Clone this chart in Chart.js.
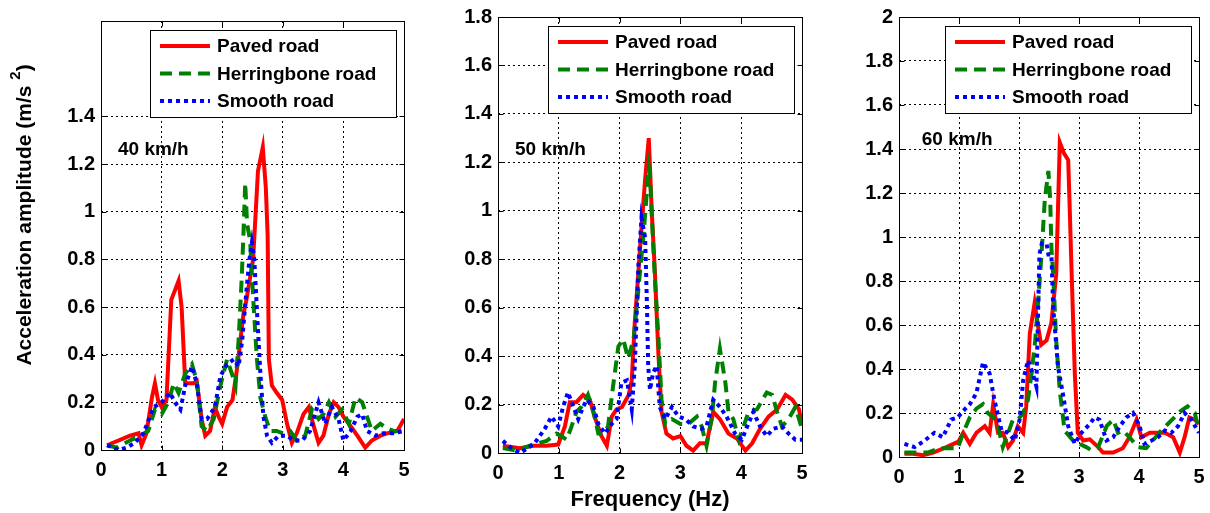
<!DOCTYPE html>
<html>
<head>
<meta charset="utf-8">
<script src="https://cdn.jsdelivr.net/npm/chart.js@4.4.0/dist/chart.umd.min.js"></script>
<style>
  html, body { margin: 0; padding: 0; background: #fff; }
  #wrap { position: relative; width: 1210px; height: 513px; overflow: hidden; }
  canvas { position: absolute; top: 0; }
</style>
</head>
<body>
<div id="wrap">
  <canvas id="c40" width="412" height="513" style="left:0px"></canvas>
  <canvas id="c50" width="398" height="513" style="left:412px"></canvas>
  <canvas id="c60" width="400" height="513" style="left:810px"></canvas>
</div>
<script>
// ---- data ----
const seriesNames = ['Paved road', 'Herringbone road', 'Smooth road'];
const speedLabels = ['40 km/h', '50 km/h', '60 km/h'];
const yMax = [1.8, 1.8, 2];
const yTickTop = [1.4, 1.8, 2];
const xTitle = 'Frequency (Hz)';

// 40 km/h
const paved40X = [0.1,0.48,0.62,0.67,0.75,0.84,0.89,0.94,1.0,1.08,1.16,1.28,1.33,1.39,1.53,1.58,1.66,1.72,1.8,1.88,1.94,2.0,2.08,2.17,2.25,2.35,2.4,2.51,2.59,2.67,2.72,2.75,2.77,2.82,2.9,2.99,3.07,3.15,3.23,3.34,3.43,3.51,3.59,3.67,3.76,3.84,3.92,4.0,4.12,4.23,4.36,4.47,4.61,4.72,4.89,5.0];
const paved40Y = [0.02,0.06,0.07,0.02,0.07,0.22,0.28,0.21,0.18,0.21,0.63,0.71,0.6,0.28,0.28,0.29,0.13,0.06,0.08,0.18,0.14,0.11,0.18,0.21,0.35,0.57,0.63,0.8,1.17,1.27,1.1,0.9,0.38,0.27,0.24,0.21,0.11,0.03,0.07,0.15,0.18,0.1,0.03,0.06,0.15,0.2,0.18,0.14,0.1,0.06,0.01,0.04,0.06,0.07,0.08,0.13];
const herring40X = [0.1,0.26,0.48,0.64,0.78,0.89,1.0,1.11,1.2,1.28,1.39,1.5,1.58,1.66,1.75,1.86,1.97,2.08,2.16,2.22,2.27,2.32,2.35,2.38,2.41,2.46,2.52,2.57,2.63,2.71,2.79,2.9,3.0,3.12,3.23,3.37,3.48,3.59,3.67,3.76,3.87,3.98,4.09,4.2,4.31,4.39,4.47,4.61,4.72,4.83,5.0];
const herring40Y = [0.02,0.01,0.04,0.06,0.08,0.17,0.15,0.2,0.28,0.24,0.32,0.36,0.29,0.1,0.08,0.13,0.27,0.38,0.32,0.27,0.46,0.71,0.9,1.12,0.95,0.88,0.6,0.39,0.22,0.14,0.08,0.08,0.07,0.08,0.04,0.06,0.17,0.13,0.15,0.2,0.14,0.17,0.11,0.22,0.2,0.14,0.08,0.11,0.09,0.08,0.08];
const smooth40X = [0.1,0.29,0.42,0.56,0.7,0.87,1.0,1.14,1.22,1.31,1.39,1.5,1.58,1.66,1.75,1.88,1.97,2.08,2.19,2.27,2.33,2.4,2.45,2.49,2.53,2.57,2.63,2.68,2.74,2.82,2.93,3.07,3.18,3.32,3.45,3.59,3.7,3.81,3.92,4.0,4.12,4.23,4.31,4.39,4.53,4.66,4.83,5.0];
const smooth40Y = [0.02,0.0,0.01,0.03,0.07,0.18,0.2,0.24,0.2,0.17,0.27,0.35,0.28,0.13,0.13,0.18,0.31,0.36,0.38,0.35,0.46,0.67,0.8,0.87,0.8,0.6,0.32,0.14,0.06,0.03,0.06,0.06,0.04,0.04,0.08,0.2,0.11,0.18,0.13,0.04,0.08,0.14,0.15,0.08,0.06,0.07,0.07,0.08];

// 50 km/h
const paved50X = [0.08,0.36,0.58,0.8,0.99,1.1,1.18,1.29,1.4,1.51,1.59,1.7,1.79,1.87,1.95,2.04,2.15,2.2,2.25,2.31,2.36,2.42,2.48,2.53,2.58,2.64,2.69,2.77,2.88,3.0,3.1,3.21,3.32,3.43,3.54,3.65,3.79,3.93,4.07,4.18,4.31,4.45,4.59,4.73,4.84,4.95,5.0];
const paved50Y = [0.03,0.02,0.03,0.03,0.035,0.11,0.21,0.21,0.24,0.22,0.15,0.07,0.03,0.15,0.18,0.19,0.24,0.3,0.54,0.75,0.93,1.13,1.3,0.99,0.75,0.4,0.17,0.08,0.06,0.07,0.03,0.01,0.04,0.04,0.17,0.14,0.08,0.06,0.01,0.04,0.1,0.15,0.18,0.24,0.22,0.18,0.12];
const herring50X = [0.08,0.3,0.58,0.8,0.96,1.04,1.13,1.21,1.29,1.37,1.48,1.57,1.65,1.73,1.81,1.9,1.98,2.06,2.14,2.23,2.31,2.39,2.44,2.48,2.5,2.53,2.58,2.64,2.69,2.75,2.86,3.0,3.13,3.27,3.35,3.43,3.52,3.57,3.65,3.74,3.79,3.87,3.96,4.04,4.12,4.26,4.42,4.51,4.59,4.67,4.78,4.89,5.0];
const herring50Y = [0.02,0.01,0.035,0.05,0.08,0.07,0.055,0.11,0.17,0.19,0.24,0.17,0.08,0.08,0.11,0.29,0.44,0.47,0.39,0.47,0.68,0.89,1.05,1.18,1.15,0.98,0.72,0.47,0.22,0.12,0.14,0.12,0.12,0.15,0.11,0.03,0.15,0.29,0.43,0.29,0.17,0.14,0.055,0.11,0.17,0.18,0.25,0.24,0.17,0.11,0.14,0.19,0.1];
const smooth50X = [0.08,0.22,0.36,0.49,0.6,0.77,0.88,0.99,1.07,1.15,1.24,1.32,1.4,1.46,1.57,1.65,1.76,1.87,1.95,2.03,2.12,2.2,2.25,2.31,2.36,2.42,2.45,2.47,2.5,2.55,2.61,2.66,2.75,2.86,2.97,3.08,3.21,3.35,3.43,3.54,3.65,3.76,3.9,4.01,4.1,4.2,4.31,4.42,4.53,4.67,4.78,4.89,5.0];
const smooth50Y = [0.05,0.02,0.0,0.02,0.04,0.1,0.15,0.11,0.19,0.25,0.19,0.14,0.19,0.22,0.19,0.12,0.08,0.12,0.14,0.29,0.3,0.18,0.36,0.78,0.97,0.89,0.61,0.36,0.26,0.33,0.36,0.19,0.14,0.19,0.15,0.14,0.11,0.1,0.11,0.22,0.19,0.15,0.08,0.055,0.11,0.17,0.11,0.07,0.1,0.11,0.08,0.055,0.055];

// 60 km/h
const paved60X = [0.09,0.23,0.4,0.57,0.79,0.99,1.07,1.18,1.29,1.43,1.51,1.57,1.65,1.73,1.82,1.9,1.98,2.07,2.12,2.18,2.26,2.32,2.37,2.46,2.54,2.62,2.66,2.68,2.75,2.82,2.84,2.87,2.93,2.98,3.07,3.18,3.32,3.4,3.57,3.73,3.84,3.96,4.04,4.18,4.32,4.43,4.57,4.68,4.76,4.84,4.93,5.0];
const paved60Y = [0.015,0.015,0.008,0.02,0.045,0.07,0.11,0.06,0.11,0.14,0.11,0.24,0.11,0.11,0.045,0.075,0.14,0.11,0.23,0.56,0.7,0.59,0.51,0.53,0.61,0.83,1.23,1.43,1.38,1.35,1.18,0.9,0.38,0.11,0.075,0.08,0.045,0.02,0.02,0.04,0.09,0.17,0.09,0.11,0.11,0.11,0.09,0.02,0.09,0.18,0.17,0.15];
const herring60X = [0.09,0.32,0.48,0.68,0.84,0.98,1.07,1.18,1.29,1.4,1.48,1.57,1.65,1.73,1.82,1.9,1.98,2.07,2.15,2.21,2.27,2.32,2.38,2.43,2.49,2.52,2.54,2.57,2.62,2.68,2.76,2.9,3.01,3.12,3.21,3.32,3.46,3.57,3.65,3.73,3.84,3.98,4.12,4.23,4.37,4.48,4.59,4.7,4.81,4.93,5.0];
const herring60Y = [0.02,0.02,0.02,0.04,0.04,0.04,0.11,0.18,0.22,0.24,0.2,0.18,0.14,0.045,0.11,0.17,0.17,0.2,0.26,0.38,0.53,0.71,0.94,1.17,1.3,1.17,0.95,0.83,0.53,0.3,0.12,0.075,0.06,0.045,0.03,0.045,0.14,0.17,0.11,0.12,0.09,0.045,0.04,0.075,0.12,0.15,0.18,0.21,0.23,0.2,0.12];
const smooth60X = [0.09,0.26,0.43,0.59,0.73,0.87,0.98,1.07,1.18,1.29,1.4,1.51,1.59,1.71,1.82,1.93,2.01,2.07,2.15,2.23,2.29,2.34,2.38,2.46,2.49,2.54,2.57,2.65,2.73,2.82,2.93,3.04,3.18,3.26,3.34,3.46,3.57,3.68,3.79,3.9,4.01,4.09,4.21,4.32,4.43,4.54,4.65,4.76,4.87,5.0];
const smooth60Y = [0.06,0.045,0.075,0.11,0.09,0.17,0.18,0.21,0.24,0.29,0.43,0.38,0.26,0.12,0.11,0.075,0.17,0.35,0.44,0.38,0.32,0.92,0.97,0.97,0.92,0.92,0.68,0.41,0.29,0.14,0.06,0.11,0.15,0.18,0.17,0.075,0.09,0.14,0.18,0.2,0.14,0.06,0.075,0.09,0.12,0.11,0.14,0.2,0.17,0.11];

// ---- styling / layout ----
const FONT = 'Arial, "Liberation Sans", Helvetica, sans-serif';
Chart.defaults.font.family = FONT;
Chart.defaults.color = '#000';

const lineStyles = [
  { color: '#ff0000', dash: [], width: 4, order: 2 },
  { color: '#008000', dash: [12, 7], width: 4, order: 1 },
  { color: '#0000ff', dash: [4, 4], width: 4, order: 0 }
];
const panels = [
  { id: 'c40', yW: 101, top: 21, xH: 63, right: 8, lab: [0.28, 1.26] },
  { id: 'c50', yW: 86,  top: 17, xH: 60, right: 8, lab: [0.28, 1.25] },
  { id: 'c60', yW: 89,  top: 17, xH: 56, right: 11, lab: [0.38, 1.44] }
];
const panelData = [
  [[paved40X, paved40Y], [herring40X, herring40Y], [smooth40X, smooth40Y]],
  [[paved50X, paved50Y], [herring50X, herring50Y], [smooth50X, smooth50Y]],
  [[paved60X, paved60Y], [herring60X, herring60Y], [smooth60X, smooth60Y]]
];

function toPoints(xs, ys) {
  return xs.map((x, k) => ({ x: x, y: ys[k] }));
}

// box round the axes + inward tick marks
const framePlugin = {
  id: 'frame',
  afterDatasetsDraw(chart) {
    const a = chart.chartArea, ctx = chart.ctx;
    const L = Math.round(a.left) + 0.5, T = Math.round(a.top) + 0.5;
    const R = Math.round(a.right) + 0.5, B = Math.round(a.bottom) + 0.5;
    ctx.save();
    ctx.strokeStyle = '#000';
    ctx.lineWidth = 1;
    ctx.strokeRect(L, T, R - L, B - T);
    ctx.beginPath();
    chart.scales.x.ticks.forEach(t => {
      const px = Math.round(chart.scales.x.getPixelForValue(t.value)) + 0.5;
      ctx.moveTo(px, B); ctx.lineTo(px, B - 5);
      ctx.moveTo(px, T); ctx.lineTo(px, T + 5);
    });
    chart.scales.y.ticks.forEach(t => {
      const py = Math.round(chart.scales.y.getPixelForValue(t.value)) + 0.5;
      ctx.moveTo(L, py); ctx.lineTo(L + 5, py);
      ctx.moveTo(R, py); ctx.lineTo(R - 5, py);
    });
    ctx.stroke();
    ctx.restore();
  }
};

// legend box inside the plot, top right
const legendPlugin = {
  id: 'legendBox',
  afterDatasetsDraw(chart) {
    const a = chart.chartArea, ctx = chart.ctx;
    const w = 246, h = 87;
    const x0 = Math.round(a.right - 8 - w), y0 = Math.round(a.top + 9);
    ctx.save();
    ctx.fillStyle = '#fff';
    ctx.fillRect(x0, y0, w, h);
    ctx.strokeStyle = '#000';
    ctx.lineWidth = 1;
    ctx.strokeRect(x0 + 0.5, y0 + 0.5, w, h);
    chart.data.datasets.forEach((ds, k) => {
      const yy = y0 + 16 + k * 27.5;
      ctx.strokeStyle = ds.borderColor;
      ctx.lineWidth = ds.borderWidth;
      ctx.setLineDash(ds.borderDash || []);
      ctx.beginPath();
      ctx.moveTo(x0 + 10, yy);
      ctx.lineTo(x0 + 60, yy);
      ctx.stroke();
      ctx.setLineDash([]);
      ctx.fillStyle = '#000';
      ctx.font = 'bold 19px ' + FONT;
      ctx.textBaseline = 'middle';
      ctx.textAlign = 'left';
      ctx.fillText(ds.label, x0 + 67, yy + 1);
    });
    ctx.restore();
  }
};

// speed label, placed in data coordinates
const speedPlugin = {
  id: 'speed',
  afterDatasetsDraw(chart, args, opts) {
    const ctx = chart.ctx;
    const px = chart.scales.x.getPixelForValue(opts.at[0]);
    const py = chart.scales.y.getPixelForValue(opts.at[1]);
    ctx.save();
    ctx.font = 'bold 19px ' + FONT;
    ctx.fillStyle = '#000';
    ctx.textBaseline = 'middle';
    ctx.textAlign = 'left';
    ctx.fillText(opts.text, px, py);
    ctx.restore();
  }
};

// y title with superscript, first panel only
const yTitlePlugin = {
  id: 'yTitle',
  afterDraw(chart) {
    const ctx = chart.ctx;
    const main = 'Acceleration amplitude (m/s ', sup = '2', close = ')';
    ctx.save();
    ctx.translate(25, 215);
    ctx.rotate(-Math.PI / 2);
    ctx.fillStyle = '#000';
    ctx.textBaseline = 'middle';
    ctx.textAlign = 'left';
    ctx.font = 'bold 21px ' + FONT;
    const w1 = ctx.measureText(main).width, w3 = ctx.measureText(close).width;
    ctx.font = 'bold 15px ' + FONT;
    const w2 = ctx.measureText(sup).width;
    let x = -(w1 + w2 + w3) / 2;
    ctx.font = 'bold 21px ' + FONT;
    ctx.fillText(main, x, 0);
    x += w1;
    ctx.font = 'bold 15px ' + FONT;
    ctx.fillText(sup, x, -9);
    x += w2;
    ctx.font = 'bold 21px ' + FONT;
    ctx.fillText(close, x, 0);
    ctx.restore();
  }
};

panels.forEach((p, i) => {
  const datasets = panelData[i].map((xy, k) => ({
    label: seriesNames[k],
    data: toPoints(xy[0], xy[1]),
    borderColor: lineStyles[k].color,
    borderWidth: lineStyles[k].width,
    borderDash: lineStyles[k].dash,
    order: lineStyles[k].order,
    fill: false,
    pointRadius: 0,
    tension: 0
  }));
  const plugins = [framePlugin, legendPlugin, speedPlugin];
  if (i === 0) plugins.push(yTitlePlugin);

  new Chart(document.getElementById(p.id), {
    type: 'line',
    data: { datasets: datasets },
    options: {
      responsive: false,
      animation: false,
      devicePixelRatio: 1,
      layout: { padding: { left: 0, top: p.top, right: p.right, bottom: 0 } },
      plugins: {
        legend: { display: false },
        tooltip: { enabled: false },
        speed: { text: speedLabels[i], at: p.lab }
      },
      scales: {
        x: {
          type: 'linear', min: 0, max: 5,
          ticks: { stepSize: 1, padding: 8, color: '#000', font: { size: 20, weight: 'bold' } },
          grid: { color: '#000', lineWidth: 1, drawTicks: false },
          border: { display: false, dash: [2, 3] },
          title: {
            display: i === 1, text: xTitle, color: '#000',
            font: { size: 22, weight: 'bold' }, padding: { top: 4, bottom: 0 }
          },
          afterFit: s => { s.height = p.xH; s.paddingLeft = 0; s.paddingRight = 0; }
        },
        y: {
          min: 0, max: yMax[i],
          ticks: {
            stepSize: 0.2, padding: 6, color: '#000',
            font: { size: 20, weight: 'bold' },
            callback: v => String(Math.round(v * 10) / 10)
          },
          grid: { color: '#000', lineWidth: 1, drawTicks: false },
          border: { display: false, dash: [2, 3] },
          afterBuildTicks: s => { s.ticks = s.ticks.filter(t => t.value <= yTickTop[i] + 1e-6); },
          afterFit: s => { s.width = p.yW; s.paddingTop = 0; s.paddingBottom = 0; }
        }
      }
    },
    plugins: plugins
  });
});
</script>
</body>
</html>
